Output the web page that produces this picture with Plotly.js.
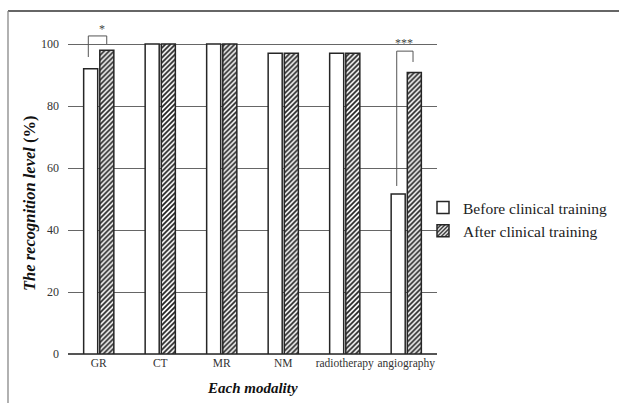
<!DOCTYPE html>
<html>
<head>
<meta charset="utf-8">
<script src="https://cdn.plot.ly/plotly-3.0.1.min.js"></script>
<style>html,body{margin:0;padding:0;background:#fff;}#chart{width:619px;height:403px;}</style>
</head>
<body>
<div id="chart"></div>
<script>
const categories = ["GR", "CT", "MR", "NM", "radiotherapy", "angiography"];
const beforeValues = [92, 100, 100, 97, 97, 51.6];
const afterValues = [98, 100, 100, 97, 97, 90.8];
const seriesNames = ["Before clinical training", "After clinical training"];
const yTicks = [0, 20, 40, 60, 80, 100];

const serif = "Liberation Serif, Times New Roman, serif";
const W = 619, H = 403, L = 68, R = 182, T = 13, B = 49;
const pw = W - L - R, ph = H - T - B;
const px = x => (x - L) / pw;
const py = y => (H - B - y) / ph;

const traces = [
  {
    type: "bar", name: seriesNames[0], x: categories, y: beforeValues,
    marker: {color: "#ffffff", line: {color: "#262626", width: 1.5}},
    hoverinfo: "none"
  },
  {
    type: "bar", name: seriesNames[1], x: categories, y: afterValues,
    marker: {color: "#ffffff", line: {color: "#262626", width: 1.5},
      pattern: {shape: "/", fgcolor: "#222222", bgcolor: "#ffffff", size: 3.5, solidity: 0.5}},
    hoverinfo: "none"
  }
];

const lineStyle = {color: "#555555", width: 1};
const shapes = [
  {type: "line", xref: "paper", yref: "paper", x0: px(8), x1: px(619), y0: py(11), y1: py(11), line: {color: "#333333", width: 1.3}},
  {type: "line", xref: "paper", yref: "paper", x0: px(8), x1: px(8), y0: py(11), y1: py(403), line: {color: "#888888", width: 1.3}},
  {type: "path", xref: "x", yref: "y", path: "M -0.17,95.8 L -0.17,102.6 L 0.13,102.6 L 0.13,100", line: lineStyle},
  {type: "path", xref: "x", yref: "y", path: "M 4.845,54.2 L 4.845,97.7 L 5.11,97.7 L 5.11,94.2", line: lineStyle}
];

const annotations = [
  {x: 0.06, y: 104.8, xref: "x", yref: "y", text: "*", showarrow: false, font: {family: serif, size: 12, color: "#444444"}},
  {x: 4.97, y: 100.3, xref: "x", yref: "y", text: "***", showarrow: false, font: {family: serif, size: 12, color: "#444444"}},
  {x: px(30), y: py(203), xref: "paper", yref: "paper", xanchor: "center", yanchor: "middle", textangle: -90, showarrow: false,
   text: "<b><i>The recognition level</i> (%)</b>", font: {family: serif, size: 16.5, color: "#111111"}},
  {x: 0.5, y: py(388), xref: "paper", yref: "paper", xanchor: "center", yanchor: "middle", showarrow: false,
   text: "<b><i>Each modality</i></b>", font: {family: serif, size: 15, color: "#111111"}}
];

const layout = {
  width: W, height: H,
  margin: {l: L, r: R, t: T, b: B, pad: 0, autoexpand: false},
  paper_bgcolor: "#ffffff", plot_bgcolor: "#ffffff",
  barmode: "group", bargap: 0.475, bargroupgap: 0.13,
  font: {family: serif, color: "#333333", size: 12},
  showlegend: true,
  legend: {
    x: px(423), y: py(191), xanchor: "left", yanchor: "top",
    font: {family: serif, size: 15.5, color: "#222222"},
    itemwidth: 30, tracegroupgap: 0, bgcolor: "rgba(0,0,0,0)"
  },
  xaxis: {
    type: "category", showline: false, ticks: "", showgrid: false, tickangle: 0,
    automargin: false,
    tickfont: {family: serif, size: 11.5, color: "#333333"}
  },
  yaxis: {
    range: [0, 110], tickvals: yTicks, ticktext: yTicks.map(String),
    showgrid: true, gridcolor: "#666666", gridwidth: 1,
    zeroline: true, zerolinecolor: "#555555", zerolinewidth: 1.3,
    showline: false, ticks: "", tickcolor: "rgba(0,0,0,0)", automargin: false,
    ticklabelstandoff: 8,
    tickfont: {family: serif, size: 12, color: "#333333"}
  },
  shapes: shapes,
  annotations: annotations
};

Plotly.newPlot("chart", traces, layout, {displayModeBar: false, staticPlot: true});
</script>
</body>
</html>
